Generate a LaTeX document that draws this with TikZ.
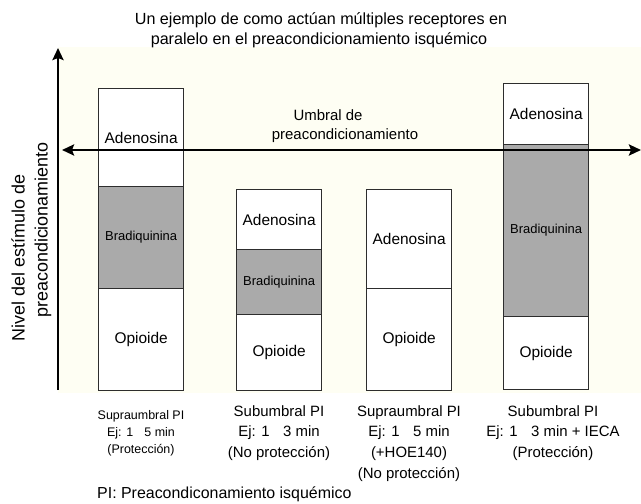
\documentclass[tikz,border=0pt]{standalone}
\usepackage{fontspec}
\setmainfont{Liberation Sans}
\usetikzlibrary{arrows.meta}
\definecolor{creamBg}{RGB}{254,254,243}
\definecolor{bradGray}{RGB}{170,170,170}
\definecolor{boxLine}{RGB}{45,45,45}
\begin{document}
\begin{tikzpicture}[x=1bp, y=-1bp,
% common options for the stacked blocks:
seg/.style = {draw=boxLine, line width=1.3bp, fill=white, minimum width=85bp,
            inner sep=0, anchor=north west, font=\fontsize{15.5}{18}\selectfont},
brad/.style = {seg, fill=bradGray, font=\fontsize{13}{15}\selectfont},
% common options for the texts:
lbl/.style = {align=center, inner sep=0, font=\fontsize{15}{21}\selectfont},
axis/.style = {line width=2.5bp, -{Stealth[length=12bp,width=11bp,inset=2bp]}}]
\useasboundingbox (0,0) rectangle (641,504);
\fill[creamBg] (58,47) rectangle (641,393);
% title
\node[lbl,font=\fontsize{16.2}{20}\selectfont] (T1) at (321,20) {Un ejemplo de como actúan múltiples receptores en};
\node[lbl,font=\fontsize{16.2}{20}\selectfont] (T2) at (319,40) {paralelo en el preacondicionamiento isquémico};
% y axis label
\node[lbl,rotate=90,font=\fontsize{18}{22}\selectfont] (Y1) at (18,258) {Nivel del estímulo de};
\node[lbl,rotate=90,font=\fontsize{18}{22}\selectfont] (Y2) at (43,230) {preacondicionamiento};
% bar 1
\node[seg,minimum height=98bp] (A1) at (98,88) {Adenosina};
\node[brad,minimum height=102bp] (B1) at (98,186) {Bradiquinina};
\node[seg,minimum height=102bp] (O1) at (98,288) {Opioide};
% bar 2
\node[seg,minimum height=60bp] (A2) at (236,189) {Adenosina};
\node[brad,minimum height=65bp] (B2) at (236,249) {Bradiquinina};
\node[seg,minimum height=76bp] (O2) at (236,314) {Opioide};
% bar 3
\node[seg,minimum height=99bp] (A3) at (366,189) {Adenosina};
\node[seg,minimum height=102bp] (O3) at (366,288) {Opioide};
% bar 4
\node[seg,minimum height=61bp] (A4) at (503,83) {Adenosina};
\node[brad,minimum height=172bp] (B4) at (503,144) {Bradiquinina};
\node[seg,minimum height=73bp] (O4) at (503,316) {Opioide};
% axes
\coordinate (yBot) at (58,390);
\coordinate (yTop) at (58,48);
\coordinate (thL) at (62,150);
\coordinate (thR) at (641,150);
\draw[axis] (yBot) -- (yTop);
\draw[axis,{Stealth[length=12bp,width=11bp,inset=2bp]}-{Stealth[length=12bp,width=11bp,inset=2bp]}] (thL) -- (thR);
\node[lbl] (U1) at (328,115) {Umbral de};
\node[lbl] (U2) at (345,136) {preacondicionamiento};
% captions
\node[lbl,anchor=north,font=\fontsize{12.5}{17}\selectfont] (C1) at (141,410)
  {Supraumbral PI\\Ej: 1\hspace{0.9em}5 min\\(Protección)};
\node[lbl,anchor=north] (C2) at (279,405)
  {Subumbral PI\\Ej: 1\hspace{0.9em}3 min\\(No protección)};
\node[lbl,anchor=north] (C3) at (409,405)
  {Supraumbral PI\\Ej: 1\hspace{0.9em}5 min\\(+HOE140)\\(No protección)};
\node[lbl,anchor=north] (C4) at (553,405)
  {Subumbral PI\\Ej: 1\hspace{0.9em}3 min + IECA\\(Protección)};
\node[lbl,anchor=north west,font=\fontsize{16}{19}\selectfont] (PI) at (97,487)
  {PI: Preacondiconamiento isquémico};
\end{tikzpicture}
\end{document}
